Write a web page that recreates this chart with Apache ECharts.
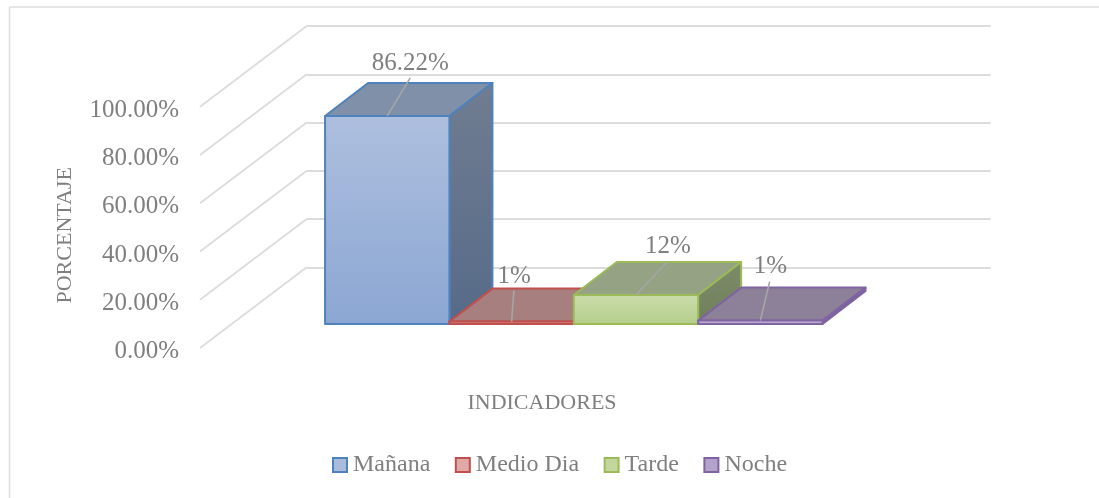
<!DOCTYPE html>
<html><head><meta charset="utf-8">
<style>html,body{margin:0;padding:0;background:#fff}#c{width:1099px;height:498px}</style>
<script src="https://cdn.jsdelivr.net/npm/echarts@6/dist/echarts.min.js"></script>
</head><body><div id="c"></div>
<script>
const categories = ['INDICADORES'];
const seriesNames = ['Mañana', 'Medio Dia', 'Tarde', 'Noche'];
const seriesValues = [86.22, 1, 12, 1.4];
const labelTexts = ['86.22%', '1%', '12%', '1%'];
const yTicks = [0, 20, 40, 60, 80, 100];

const FONT = '"Liberation Serif"';
const TXT = '#7f7f7f';
const GRIDC = '#dcdcdc';
const WALL = { dx: 106.7, dy: -80.7 };
const BAR_FRONT = { dx: 31.8, dy: -24 };
const BAR_DEPTH = { dx: 43, dy: -33 };
const LABEL_OFFS = [[23, -53], [2.5, -45], [32, -49], [10, -54]];
const LINE_OFFS = [[23, -38], [2.3, -31], [31, -33], [9.3, -39]];
const STYLES = [
  { border: '#4f81bd', top: '#8090a8', sideA: '#707d91', sideB: '#566a88', frontA: '#aebfde', frontB: '#8ba7d3', legend: '#a9bcdc' },
  { border: '#c0504d', top: '#a67f7e', sideA: '#8e4a48', sideB: '#8e4a48', frontA: '#d99b99', frontB: '#cf7f7d', legend: '#e0a8a6' },
  { border: '#9bbb59', top: '#95a283', sideA: '#7d8b69', sideB: '#6f7f5b', frontA: '#cbddab', frontB: '#b4cd8a', legend: '#c3d69b' },
  { border: '#8064a2', top: '#8d8199', sideA: '#7a60a0', sideB: '#7a60a0', frontA: '#c6b8d8', frontB: '#b3a2cb', legend: '#b3a2cb' }
];
const grad = (a, b) => new echarts.graphic.LinearGradient(0, 0, 0, 1, [{ offset: 0, color: a }, { offset: 1, color: b }]);

function barSeries(name, i) {
  const s = STYLES[i];
  return {
    name, type: 'custom', xAxisIndex: 0, yAxisIndex: 0, clip: false, z: 5 + i,
    itemStyle: { color: s.legend, borderColor: s.border, borderWidth: 2 },
    encode: { x: 0, y: 1 },
    data: [[0, seriesValues[i]]],
    renderItem(params, api) {
      const band = api.size([1, 0])[0];
      const w = band / 5.5;
      const c0 = api.coord([0, 0]);
      const cv = api.coord([0, api.value(1)]);
      const x = c0[0] - 2 * w + i * w + BAR_FRONT.dx;
      const yb = c0[1] + BAR_FRONT.dy;
      const yt = cv[1] + BAR_FRONT.dy;
      const dx = BAR_DEPTH.dx, dy = BAR_DEPTH.dy;
      const stroke = { stroke: s.border, lineWidth: 2, lineJoin: 'round' };
      const mid = x + w / 2;
      return {
        type: 'group',
        children: [
          { type: 'polygon', shape: { points: [[x, yt], [x + w, yt], [x + w + dx, yt + dy], [x + dx, yt + dy]] }, style: { fill: s.top, ...stroke } },
          { type: 'polygon', shape: { points: [[x + w, yt], [x + w + dx, yt + dy], [x + w + dx, yb + dy], [x + w, yb]] }, style: { fill: grad(s.sideA, s.sideB), ...stroke } },
          { type: 'rect', shape: { x, y: yt, width: w, height: yb - yt }, style: { fill: grad(s.frontA, s.frontB), ...stroke } },
          { type: 'line', shape: { x1: mid, y1: yt, x2: mid + LINE_OFFS[i][0], y2: yt + LINE_OFFS[i][1] }, style: { stroke: '#a6a6a6', lineWidth: 1.6 } },
          { type: 'text', style: { x: mid + LABEL_OFFS[i][0], y: yt + LABEL_OFFS[i][1], text: labelTexts[i], fill: TXT, font: '25px ' + FONT, align: 'center', verticalAlign: 'middle' } }
        ]
      };
    }
  };
}

const chart = echarts.init(document.getElementById('c'), null, { renderer: 'canvas' });
chart.setOption({
  animation: false,
  backgroundColor: '#fff',
  graphic: [
    { type: 'line', silent: true, shape: { x1: 9.5, y1: 7, x2: 1099, y2: 7 }, style: { stroke: '#dedede', lineWidth: 1.5 } },
    { type: 'line', silent: true, shape: { x1: 9.5, y1: 7, x2: 9.5, y2: 498 }, style: { stroke: '#dedede', lineWidth: 1.5 } }
  ],
  grid: [
    { left: 200, top: 106.7, width: 684, height: 241.3 },
    { left: 306.7, top: 26, width: 684, height: 241.3 }
  ],
  xAxis: [
    { type: 'category', gridIndex: 0, data: categories, name: 'INDICADORES', nameLocation: 'middle', nameGap: 55,
      nameTextStyle: { color: TXT, fontFamily: FONT, fontSize: 22, verticalAlign: 'middle' },
      axisLine: { show: false }, axisTick: { show: false }, axisLabel: { show: false } },
    { type: 'value', gridIndex: 1, min: 0, max: 1, show: false }
  ],
  yAxis: [
    { type: 'value', gridIndex: 0, min: 0, max: 100, interval: 20, name: 'PORCENTAJE', nameLocation: 'middle', nameGap: 135, nameRotate: 90,
      nameTextStyle: { color: TXT, fontFamily: FONT, fontSize: 22, verticalAlign: 'middle', padding: [0, 16, 0, 0] },
      axisLine: { show: false }, axisTick: { show: false }, splitLine: { show: false },
      axisLabel: { color: TXT, fontFamily: FONT, fontSize: 25, margin: 21, formatter: v => '{a|' + v.toFixed(2) + '%}',
        rich: { a: { color: TXT, fontFamily: FONT, fontSize: 25, padding: [7, 0, 0, 0] } } } },
    { type: 'value', gridIndex: 1, min: 0, max: 100, interval: 20,
      axisLine: { show: false }, axisTick: { show: false }, axisLabel: { show: false },
      splitLine: { show: true, lineStyle: { color: GRIDC, width: 1.8 } } }
  ],
  legend: {
    left: 332, top: 453, itemWidth: 14, itemHeight: 14, itemGap: 24.5, icon: 'rect', selectedMode: false, padding: [0, 0, 0, 0],
    textStyle: { color: TXT, fontFamily: FONT, fontSize: 24, padding: [0, 0, 0, 1] },
    data: seriesNames.map((name, i) => ({ name, icon: 'rect', itemStyle: { color: STYLES[i].legend, borderColor: STYLES[i].border, borderWidth: 2 } }))
  },
  series: [
    {
      type: 'custom', name: 'pared', xAxisIndex: 0, yAxisIndex: 0, clip: false, silent: true, z: 1,
      data: yTicks.map(t => [0, t]), encode: { x: 0, y: 1 },
      renderItem(params, api) {
        const band = api.size([1, 0])[0];
        const c = api.coord([0, api.value(1)]);
        const x = c[0] - band / 2;
        return { type: 'line', shape: { x1: x, y1: c[1], x2: x + WALL.dx, y2: c[1] + WALL.dy }, style: { stroke: GRIDC, lineWidth: 1.8 } };
      }
    },
    ...seriesNames.map(barSeries)
  ]
});
</script></body></html>
